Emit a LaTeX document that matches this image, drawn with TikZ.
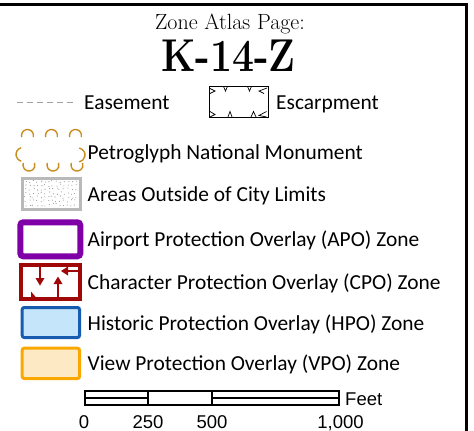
\documentclass[tikz,border=0pt]{standalone}
\usepackage{fontspec}
\newfontfamily\legendfont{Carlito}
\newfontfamily\scalefont{Liberation Sans}
\definecolor{petro}{RGB}{200,142,32}
\definecolor{apo}{RGB}{128,0,168}
\definecolor{cpo}{RGB}{160,8,8}
\definecolor{hpoline}{RGB}{24,92,176}
\definecolor{hpofill}{RGB}{197,230,250}
\definecolor{vpoline}{RGB}{250,168,0}
\definecolor{vpofill}{RGB}{253,234,196}
\definecolor{outcity}{RGB}{185,185,185}
\definecolor{stipple}{RGB}{150,150,150}
\definecolor{easement}{RGB}{160,160,160}

\begin{document}
\begin{tikzpicture}[x=1pt,y=-1pt,
  legendtext/.style={font=\legendfont\fontsize{21.4}{24}\selectfont, anchor=base west, inner sep=0pt},
  scaletext/.style={font=\scalefont\fontsize{18.5}{22}\selectfont, anchor=base, inner sep=0pt},
  petroarc/.style={draw=petro, line width=1.4pt},
  escmark/.style={draw=black, line width=0.7pt},
  bar/.style={draw=black, line width=2pt}]
\useasboundingbox (0,0) rectangle (474,431);

% frame (top and right edges)
\draw[line width=3pt] (0,4) -- (466.5,4) -- (466.5,431);

% heading
\node[font=\fontsize{22}{26}\selectfont, anchor=base, inner sep=0pt] (title) at (230,29.3) {Zone Atlas Page:};
\node[font=\bfseries\fontsize{46}{50}\selectfont, anchor=base, inner sep=0pt, xscale=0.85] (page) at (228.5,71.5) {K-14-Z};

% easement
\coordinate (easeA) at (17,102);
\coordinate (easeB) at (77,102);
\draw[easement, line width=0.9pt, dash pattern=on 5.5pt off 4.5pt] (easeA) -- (easeB);
\node[legendtext] (easeT) at (84,109) {Easement};

% escarpment
\draw[line width=0.9pt] (209.5,86) rectangle (268,117.5);
\draw[escmark] (210,88.5) -- (215,91) -- (210,93.5);
\draw[escmark] (223.5,86.5) -- (225.5,91) -- (227.5,86.5);
\draw[escmark] (247.5,86.5) -- (249.5,91) -- (251.5,86.5);
\draw[escmark] (267,88) -- (259,91) -- (264,93.5);
\draw[escmark] (210,111.5) -- (215,114.5) -- (210,117);
\draw[escmark] (228,117) -- (230,111.5) -- (232,117);
\draw[escmark] (251,117) -- (253.5,111.5) -- (256,117);
\draw[escmark] (266.5,111.5) -- (259,115.5) -- (266.5,117);
\node[legendtext] (escT) at (276,109) {Escarpment};

% petroglyph scallops
\foreach \cx in {27.5,51.5,75.5}{
  \draw[petroarc] (\cx,135.5) ++(195:6pt) arc[start angle=195,end angle=-15,radius=6pt];
  \draw[petroarc] (\cx+1.5,165) ++(160:6pt) arc[start angle=160,end angle=380,radius=6pt];
}
\draw[petroarc] (23,154.5) ++(105:7pt) arc[start angle=105,end angle=255,radius=7pt];
\draw[petroarc] (78,155) ++(80:7pt) arc[start angle=80,end angle=-80,radius=7pt];
\node[legendtext] (petroT) at (87.5,159.3) {Petroglyph National Monument};

% areas outside of city limits
\pgfmathsetseed{11}
\foreach \i in {0,...,13}{
  \foreach \j in {0,...,6}{
    \pgfmathsetmacro\dx{25.5+\i*3.85+rand*1.3}
    \pgfmathsetmacro\dy{181.5+\j*3.9+rand*1.3}
    \fill[stipple] (\dx,\dy) circle[radius=0.55pt];
  }
}
\draw[outcity, line width=3pt] (22.2,178.2) rectangle (80.2,209.2);
\node[legendtext] (outT) at (87.5,201.7) {Areas Outside of City Limits};

% APO
\draw[apo, line width=6pt, rounded corners=3pt] (20.3,222.3) rectangle (80.3,256.3);
\node[legendtext] (apoT) at (87.5,246.7) {Airport Protection Overlay (APO) Zone};

% CPO
\draw[cpo, line width=4pt] (21,265) rectangle (79.7,298.7);
\draw[cpo, line width=2.5pt] (40,266) -- (40,279);
\fill[cpo] (35.5,278) -- (44.5,278) -- (40,285.5) -- cycle;
\draw[cpo, line width=2.5pt] (58,297) -- (58,283);
\fill[cpo] (53.5,284) -- (62.5,284) -- (58,276.5) -- cycle;
\draw[cpo, line width=2.5pt] (78,271) -- (67,271);
\fill[cpo] (68,266.5) -- (68,275.5) -- (61,271) -- cycle;
\fill[cpo] (31,291.5) -- (31,299) -- (36.5,298) -- cycle;
\node[legendtext] (cpoT) at (87.5,289) {Character Protection Overlay (CPO) Zone};

% HPO
\draw[hpoline, fill=hpofill, line width=3pt, rounded corners=2pt] (22.2,307.5) rectangle (79.5,337.5);
\node[legendtext] (hpoT) at (87.5,330) {Historic Protection Overlay (HPO) Zone};

% VPO
\draw[vpoline, fill=vpofill, line width=3pt, rounded corners=2pt] (22.2,348.2) rectangle (79.5,378.5);
\node[legendtext] (vpoT) at (87.5,370.7) {View Protection Overlay (VPO) Zone};

% scale bar
\draw[bar] (84.5,391) rectangle (339,405);
\draw[bar] (148,391) -- (148,405);
\draw[bar] (212,391) -- (212,405);
\draw[bar] (84.5,398) -- (148,398);
\draw[bar] (212,398) -- (339,398);
\node[scaletext] (s0) at (84,428) {0};
\node[scaletext] (s250) at (148,428) {250};
\node[scaletext] (s500) at (212,428) {500};
\node[scaletext] (s1000) at (340.5,428) {1,000};
\node[scaletext, anchor=base west] (feet) at (345,405.5) {Feet};
\end{tikzpicture}
\end{document}
